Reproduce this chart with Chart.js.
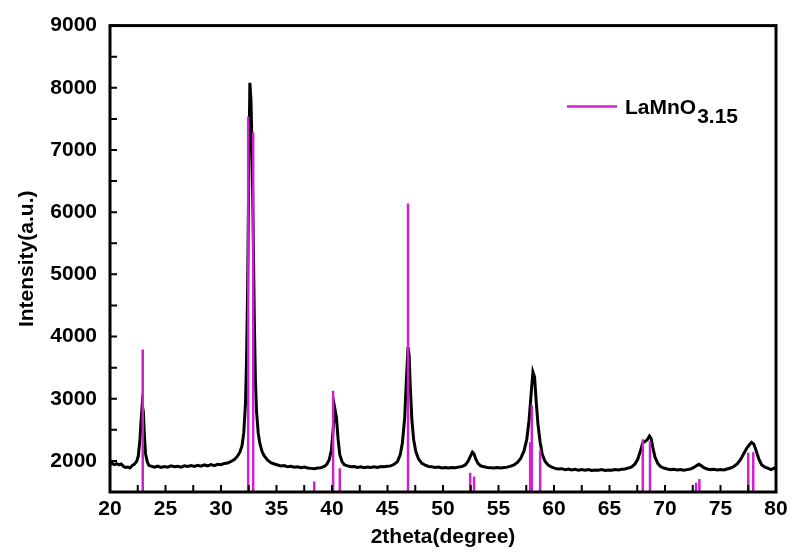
<!DOCTYPE html>
<html>
<head>
<meta charset="utf-8">
<script src="https://cdn.jsdelivr.net/npm/chart.js@4/dist/chart.umd.min.js"></script>
<style>
html,body{margin:0;padding:0;background:#fff;}
#wrap{width:793px;height:559px;}
canvas{display:block;}
</style>
</head>
<body>
<div id="wrap"><canvas id="c" width="793" height="559"></canvas></div>
<script>
// Measured XRD pattern (2theta in degrees, intensity in a.u.)
const twoTheta = [
20.0,20.2,20.4,20.6,20.8,21.0,21.2,21.4,21.6,21.8,22.0,22.2,22.4,22.55,22.7,22.8,22.9,23.0,23.1,23.2,23.35,23.5,23.7,
24.0,24.3,24.6,24.9,25.2,25.5,25.8,26.1,26.4,26.7,27.0,27.3,27.6,27.9,28.2,28.5,28.8,29.1,29.4,29.7,30.0,30.3,30.6,30.9,
31.2,31.5,31.7,31.9,32.05,32.2,32.3,32.4,32.5,32.6,32.7,32.8,32.9,33.0,33.1,33.2,33.35,33.5,33.7,33.9,34.2,34.5,34.8,
35.1,35.4,35.7,36.0,36.3,36.6,36.9,37.2,37.5,37.8,38.1,38.4,38.7,39.0,39.3,39.55,39.75,39.95,40.1,40.25,40.4,40.55,40.7,
40.9,41.1,41.4,41.7,42.0,42.3,42.6,42.9,43.2,43.5,43.8,44.1,44.4,44.7,45.0,45.3,45.6,45.9,46.15,46.35,46.55,46.7,46.85,
46.95,47.05,47.2,47.35,47.55,47.8,48.1,48.4,48.7,49.0,49.3,49.6,49.9,50.2,50.5,50.8,51.1,51.4,51.7,52.0,52.25,52.45,
52.65,52.8,52.95,53.15,53.4,53.7,54.0,54.3,54.6,54.9,55.2,55.5,55.8,56.1,56.4,56.7,57.0,57.3,57.55,57.75,57.95,58.1,
58.25,58.4,58.55,58.75,58.95,59.2,59.5,59.8,60.1,60.4,60.7,61.0,61.3,61.6,61.9,62.2,62.5,62.8,63.1,63.4,63.7,64.0,64.3,
64.6,64.9,65.2,65.5,65.8,66.1,66.4,66.7,67.0,67.3,67.55,67.8,68.0,68.2,68.4,68.6,68.75,68.9,69.1,69.35,69.6,69.9,70.2,
70.5,70.8,71.1,71.4,71.7,72.0,72.3,72.6,72.85,73.05,73.25,73.5,73.8,74.1,74.4,74.7,75.0,75.3,75.6,75.9,76.2,76.5,76.8,
77.1,77.35,77.6,77.8,78.0,78.2,78.45,78.7,79.0,79.3,79.55,79.8,80.0
];
const intensity = [
1945,1960,1940,1955,1935,1950,1915,1895,1900,1885,1925,1950,1990,2080,2350,2650,2900,2800,2400,2120,1990,1930,1915,
1900,1915,1895,1910,1900,1920,1905,1915,1900,1920,1910,1925,1910,1930,1915,1935,1920,1940,1925,1945,1940,1960,1965,1990,
2020,2080,2140,2250,2450,2900,3600,4800,6600,8080,7800,7000,5700,4300,3300,2800,2450,2280,2150,2080,2010,1970,1950,
1935,1920,1925,1905,1915,1900,1905,1890,1900,1885,1880,1875,1885,1890,1910,1950,2020,2180,2500,2850,2700,2350,2100,
1990,1940,1920,1905,1910,1895,1905,1890,1900,1895,1905,1895,1910,1905,1915,1920,1945,1990,2100,2300,2700,3300,3830,
3700,3200,2650,2350,2150,2030,1960,1930,1910,1905,1895,1900,1885,1895,1885,1895,1890,1900,1910,1935,1990,2070,
2140,2110,2030,1960,1920,1905,1895,1890,1885,1895,1885,1895,1900,1915,1935,1975,2040,2160,2350,2650,3100,3430,
3350,2950,2600,2300,2100,1990,1930,1900,1880,1870,1875,1860,1870,1855,1865,1850,1860,1850,1860,1845,1855,1850,1860,
1845,1855,1850,1860,1855,1865,1870,1885,1905,1950,2030,2170,2290,2310,2340,2400,2360,2220,2060,1960,1910,1885,1870,
1860,1865,1855,1860,1850,1860,1870,1895,1925,1945,1925,1890,1870,1860,1865,1855,1860,1855,1870,1885,1910,1950,2020,
2120,2200,2260,2300,2270,2170,2030,1940,1900,1880,1860,1880,1900
];
// Reference pattern (LaMnO3.15) stick positions and heights
const stickPos = [22.95,32.45,32.9,38.4,40.1,40.7,46.85,52.45,52.8,57.85,58.0,58.75,68.0,68.65,72.8,73.1,77.5,77.95];
const stickInt = [3790,7540,7280,1670,3130,1880,6140,1810,1750,2300,2890,2170,2350,2320,1650,1710,2130,2140];
// Axis ticks
const xTickLabels = ['20','25','30','35','40','45','50','55','60','65','70','75','80'];
const yTickLabels = ['2000','3000','4000','5000','6000','7000','8000','9000'];
const xMinorTicks = [20,22.5,25,27.5,30,32.5,35,37.5,40,42.5,45,47.5,50,52.5,55,57.5,60,62.5,65,67.5,70,72.5,75,77.5,80];
const yMinorTicks = [1500,2000,2500,3000,3500,4000,4500,5000,5500,6000,6500,7000,7500,8000,8500,9000];
const legendBase = 'LaMnO';
const legendSub = '3.15';

const MAG = '#d020d0';
const FONT = "'Liberation Sans', Arial, sans-serif";

const curve = twoTheta.map((t, i) => ({x: t, y: intensity[i]}));
const sticks = [];
stickPos.forEach((p, i) => {
  sticks.push({x: p, y: 1500});
  sticks.push({x: p, y: stickInt[i]});
  sticks.push({x: p, y: null});
});

const framePlugin = {
  id: 'framePlugin',
  afterDatasetsDraw(chart) {
    const {ctx, chartArea: a, scales: {x, y}} = chart;
    ctx.save();
    ctx.strokeStyle = '#000';
    ctx.lineWidth = 2;
    ctx.beginPath();
    xMinorTicks.forEach(v => {
      const px = x.getPixelForValue(v);
      ctx.moveTo(px, a.bottom); ctx.lineTo(px, a.bottom - 7);
    });
    yMinorTicks.forEach(v => {
      const py = y.getPixelForValue(v);
      ctx.moveTo(a.left, py); ctx.lineTo(a.left + 7, py);
    });
    ctx.stroke();
    ctx.lineWidth = 3;
    ctx.strokeRect(a.left, a.top, a.right - a.left, a.bottom - a.top);

    // legend
    const lx = a.left + 457, ly = a.top + 81;
    ctx.strokeStyle = MAG;
    ctx.lineWidth = 2.5;
    ctx.beginPath(); ctx.moveTo(lx, ly); ctx.lineTo(lx + 50, ly); ctx.stroke();
    ctx.fillStyle = '#000';
    ctx.font = 'bold 21px ' + FONT;
    ctx.textBaseline = 'alphabetic';
    ctx.textAlign = 'left';
    ctx.fillText(legendBase, lx + 58, ly + 7);
    const w = ctx.measureText(legendBase).width;
    ctx.fillText(legendSub, lx + 58 + w + 1, ly + 16);
    ctx.restore();
  }
};

new Chart(document.getElementById('c'), {
  type: 'line',
  data: {
    datasets: [
      {label: 'LaMnO3.15', data: sticks, borderColor: MAG, borderWidth: 2.5, pointRadius: 0, spanGaps: false, order: 0, tension: 0},
      {label: 'sample', data: curve, borderColor: '#000', borderWidth: 3, pointRadius: 0, order: 1, tension: 0}
    ]
  },
  options: {
    responsive: false,
    animation: false,
    devicePixelRatio: 1,
    layout: {padding: {top: 19, right: 17, left: 0, bottom: 0}},
    plugins: {legend: {display: false}, tooltip: {enabled: false}},
    scales: {
      x: {
        type: 'linear', min: 20, max: 80,
        afterFit(s) { s.height = 67; },
        grid: {display: false, drawTicks: false},
        border: {display: false},
        ticks: {
          stepSize: 5, autoSkip: false, maxRotation: 0, padding: 5,
          color: '#000', font: {family: FONT, size: 21, weight: 'bold'},
          callback: (v) => { const i = (v - 20) / 5; return Number.isInteger(i) ? xTickLabels[i] : ''; }
        },
        title: {display: true, text: '2theta(degree)', color: '#000', font: {family: FONT, size: 21, weight: 'bold'}, padding: {top: 0, bottom: 9}}
      },
      y: {
        type: 'linear', min: 1500, max: 9000,
        afterFit(s) { s.width = 110; },
        grid: {display: false, drawTicks: false},
        border: {display: false},
        ticks: {
          stepSize: 500, autoSkip: false, padding: 13,
          color: '#000', font: {family: FONT, size: 21, weight: 'bold'},
          callback: (v) => { const i = (v - 2000) / 1000; return (Number.isInteger(i) && i >= 0) ? yTickLabels[i] : ''; }
        },
        title: {display: true, text: 'Intensity(a.u.)', color: '#000', font: {family: FONT, size: 21, weight: 'bold'}, padding: {top: 15, bottom: 0}}
      }
    }
  },
  plugins: [framePlugin]
});
</script>
</body>
</html>
